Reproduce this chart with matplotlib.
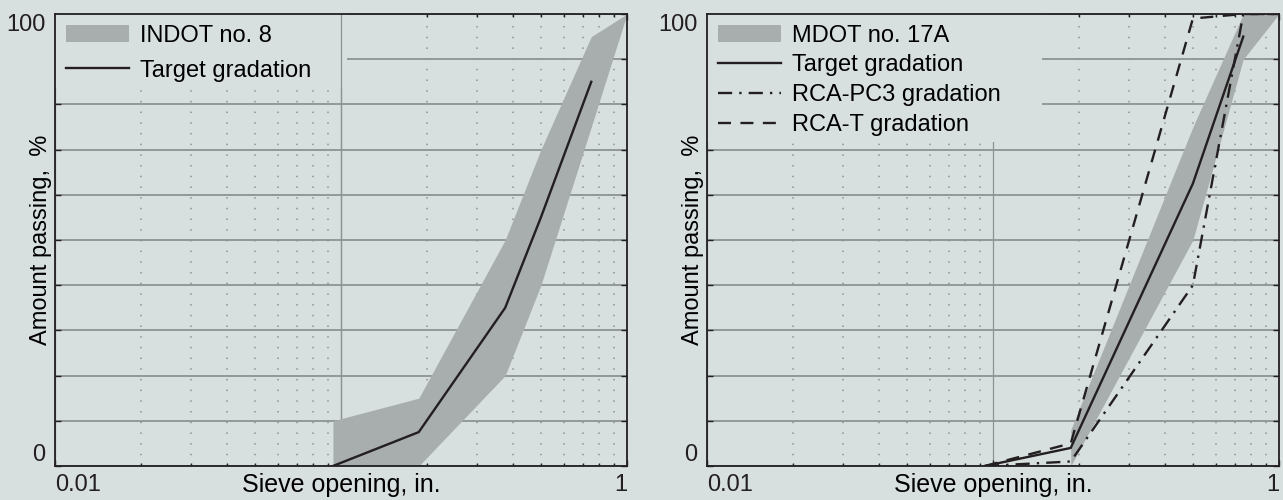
import matplotlib.pyplot as plt
from matplotlib.patches import Rectangle

plt.rcParams['font.family'] = ['Liberation Sans', 'DejaVu Sans']
plt.rcParams['font.size'] = 17

# sieve openings, in. (#8, #4, 3/8, 1/2, 3/4, 1)
sieve_in = [0.0937, 0.187, 0.375, 0.5, 0.75, 1.0]

# left panel: INDOT no. 8 band and target
indot_x = sieve_in
indot_low = [0, 0, 20, 40, 75, 100]
indot_high = [10, 15, 50, 70, 95, 100]
target_left_x = [0.0937, 0.187, 0.375, 0.5, 0.75]
target_left_y = [0, 7.5, 35, 55, 85]

# right panel: MDOT no. 17A band, target and RCA gradations
mdot_x = [0.187, 0.5, 0.75, 1.0]
mdot_low = [0, 50, 90, 100]
mdot_high = [8, 75, 100, 100]
target_right_x = [0.0937, 0.187, 0.5, 0.75]
target_right_y = [0, 4, 62.5, 95]
pc3_x = [0.0937, 0.187, 0.5, 0.75, 1.0]
pc3_y = [0, 1, 40, 100, 100]
rcat_x = [0.0937, 0.187, 0.5, 0.75, 1.0]
rcat_y = [0, 5, 99, 100, 100]

bg = '#d8e0df'
band = '#a8adad'
ink = '#231f20'
grid = '#8d9392'

fig = plt.figure(figsize=(12.83, 5.0), dpi=100, facecolor=bg)
ax1 = fig.add_axes([55 / 1283, 34 / 500, 572 / 1283, 452 / 500])
ax2 = fig.add_axes([707 / 1283, 34 / 500, 572 / 1283, 452 / 500])


def style(ax, legend_w, legend_h, show_mid_line):
    ax.set_facecolor(bg)
    ax.set_xscale('log')
    ax.set_xlim(0.01, 1)
    ax.set_ylim(0, 100)
    ax.set_xticks([0.01, 0.1, 1], ['0.01', '', '1'])
    ax.set_xticks([k * 0.01 for k in range(2, 10)] + [k * 0.1 for k in range(2, 10)],
                  minor=True)
    ax.xaxis.set_minor_formatter(plt.NullFormatter())
    ax.set_yticks(range(0, 101, 10), ['0'] + [''] * 9 + ['100'])
    ax.tick_params(which='both', direction='in', top=True, right=True, width=1, colors=ink)
    ax.tick_params(which='major', length=4.5, pad=6)
    ax.tick_params(which='minor', length=2.5)
    ax.tick_params(axis='y', pad=7)
    xl = ax.get_xticklabels()
    xl[0].set_ha('left')
    xl[-1].set_ha('right')
    yl = ax.get_yticklabels()
    yl[0].set_va('bottom')
    yl[-1].set_va('top')
    for s in ax.spines.values():
        s.set_color(ink)
        s.set_linewidth(1.3)
    ax.set_axisbelow(True)
    ax.grid(axis='y', which='major', color=grid, lw=1.3, ls='-')
    ax.grid(axis='x', which='major', color=grid, lw=0.9, ls='-')
    ax.grid(axis='x', which='minor', color=grid, lw=1.1, ls=(0, (1, 6)))
    # plain area behind the legend hides the grid
    ax.add_patch(Rectangle((0, 1 - legend_h), legend_w, legend_h, transform=ax.transAxes,
                           facecolor=bg, edgecolor='none', zorder=1))
    if show_mid_line:
        ax.axvline(0.1, color=grid, lw=0.9, zorder=1.2)
    ax.set_xlabel('Sieve opening, in.', va='top', fontsize=18)
    ax.xaxis.set_label_coords(0.5, -0.016)
    ax.set_ylabel('Amount passing,  %')
    ax.yaxis.set_label_coords(-0.006, 0.5)


style(ax1, 0.51, 0.164, True)
style(ax2, 0.586, 0.283, False)

ax1.fill_between(indot_x, indot_low, indot_high, color=band, lw=0, zorder=2,
                 label='INDOT no. 8')
ax1.plot(target_left_x, target_left_y, color=ink, lw=1.7, zorder=3,
         label='Target gradation')
ax1.legend(loc='upper left', frameon=False, borderaxespad=0, borderpad=0.45,
           handlelength=2.7, handletextpad=0.45, labelspacing=0.55, fontsize=17)

ax2.fill_between(mdot_x, mdot_low, mdot_high, color=band, lw=0, zorder=2,
                 label='MDOT no. 17A')
ax2.plot(target_right_x, target_right_y, color=ink, lw=1.7, zorder=3,
         label='Target gradation')
ax2.plot(pc3_x, pc3_y, color=ink, lw=1.7, ls=(0, (6, 3, 1, 3)), zorder=3,
         label='RCA-PC3 gradation')
ax2.plot(rcat_x, rcat_y, color=ink, lw=1.7, ls=(0, (5.5, 4)), zorder=3,
         label='RCA-T gradation')
ax2.legend(loc='upper left', frameon=False, borderaxespad=0, borderpad=0.45,
           handlelength=2.7, handletextpad=0.45, labelspacing=0.33, fontsize=17)

fig.savefig('out.png', dpi=100, facecolor=bg)
